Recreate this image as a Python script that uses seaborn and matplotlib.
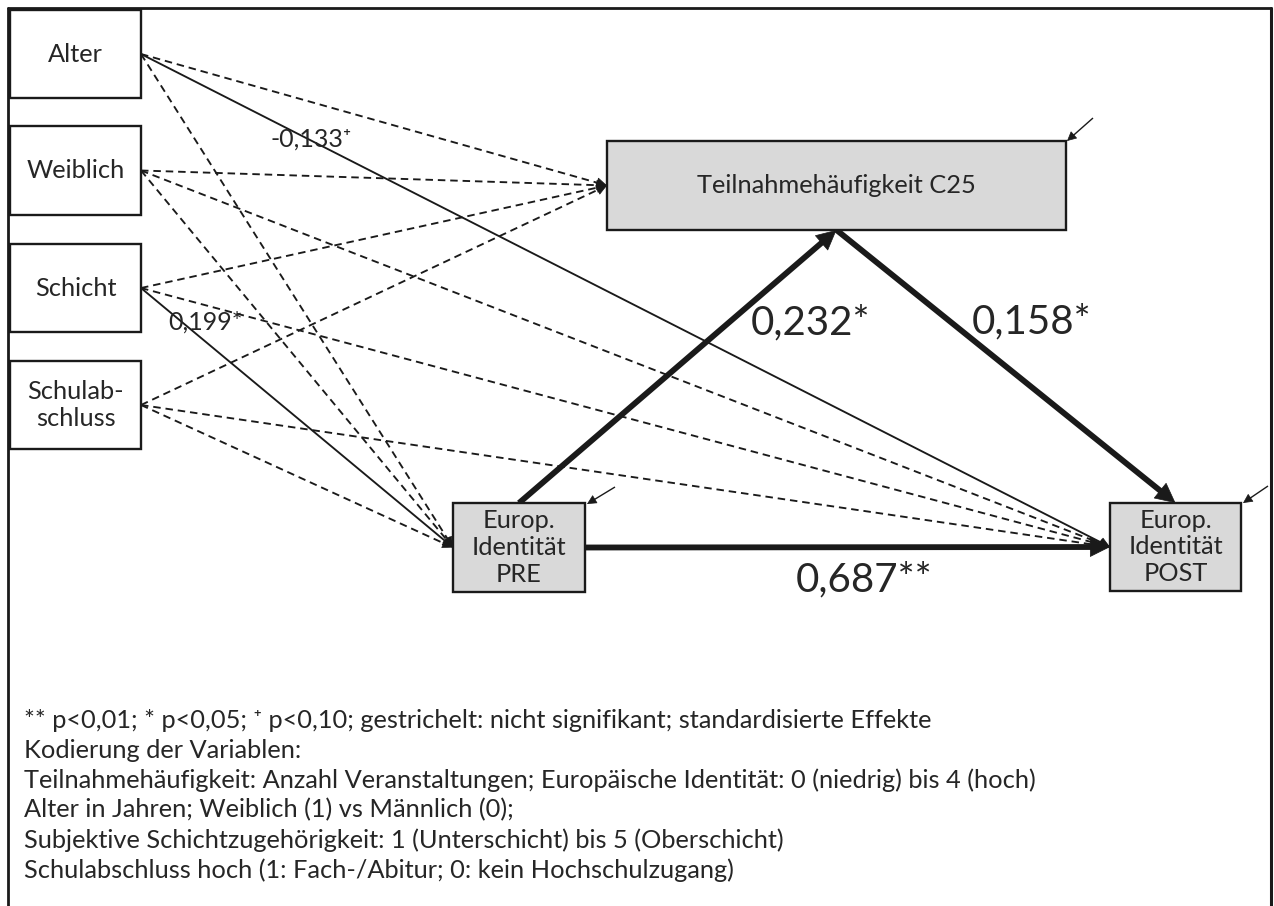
import numpy as np
import seaborn as sns
import matplotlib.pyplot as plt
from matplotlib.patches import Rectangle

# path model: covariates -> participation / identity PRE / identity POST
predictors = ['Alter', 'Weiblich', 'Schicht', 'Schulab-\nschluss']
outcomes = ['Teilnahmehäufigkeit C25', 'Europ.\nIdentität\nPRE', 'Europ.\nIdentität\nPOST']

# covariate paths: (source, target, coefficient or None if n.s., stars)
cov_src = ['Alter', 'Alter', 'Alter',
           'Weiblich', 'Weiblich', 'Weiblich',
           'Schicht', 'Schicht', 'Schicht',
           'Schulab-\nschluss', 'Schulab-\nschluss', 'Schulab-\nschluss']
cov_tgt = ['C25', 'PRE', 'POST'] * 4
cov_coef = [None, None, -0.133,
            None, None, None,
            None, 0.199, None,
            None, None, None]
cov_star = ['', '', '⁺', '', '', '', '', '*', '', '', '', '']

# main paths
main_src = ['PRE', 'C25', 'PRE']
main_tgt = ['C25', 'POST', 'POST']
main_coef = [0.232, 0.158, 0.687]
main_star = ['*', '*', '**']

notes = [
    '** p<0,01; * p<0,05; ⁺ p<0,10; gestrichelt: nicht signifikant; standardisierte Effekte',
    'Kodierung der Variablen:',
    'Teilnahmehäufigkeit: Anzahl Veranstaltungen; Europäische Identität: 0 (niedrig) bis 4 (hoch)',
    'Alter in Jahren; Weiblich (1) vs Männlich (0);',
    'Subjektive Schichtzugehörigkeit: 1 (Unterschicht) bis 5 (Oberschicht)',
    'Schulabschluss hoch (1: Fach-/Abitur; 0: kein Hochschulzugang)',
]

sns.set_theme(style='white')
plt.rcParams['font.family'] = ['Lato', 'DejaVu Sans']

fig = plt.figure(figsize=(12.74, 9.06), dpi=100)
ax = fig.add_axes([0, 0, 1, 1])
ax.set_xlim(0, 1274)
ax.set_ylim(906, 0)
ax.axis('off')

# layout in pixel units (x, y, w, h)
boxes = {
    'Alter': (10, 10, 131, 88),
    'Weiblich': (10, 126, 131, 89),
    'Schicht': (10, 244, 131, 88),
    'Schulab-\nschluss': (10, 361, 131, 88),
    'C25': (607, 141, 459, 89),
    'PRE': (453, 503, 132, 89),
    'POST': (1110, 503, 131, 88),
}
out_keys = ['C25', 'PRE', 'POST']

# outer frame
ax.plot([8, 1271], [8, 8], color='k', lw=2)
ax.plot([8, 8], [8, 906], color='k', lw=2)
ax.plot([1271, 1271], [8, 906], color='k', lw=2.2)


def fmt(v):
    return f'{v:.3f}'.replace('.', ',')


def right(k):
    x, y, w, h = boxes[k]
    return (x + w, y + h / 2)


def left(k):
    x, y, w, h = boxes[k]
    return (x, y + h / 2)


def top(k):
    x, y, w, h = boxes[k]
    return (x + w / 2, y)


def bottom(k):
    x, y, w, h = boxes[k]
    return (x + w / 2, y + h)


def arrow(p0, p1, lw, dashed=False, scale=14):
    p0, p1 = np.array(p0, float), np.array(p1, float)
    u = (p1 - p0) / np.hypot(*(p1 - p0))
    stop = p1 - u * scale * 0.55
    ax.plot([p0[0], stop[0]], [p0[1], stop[1]], color='k', lw=lw,
            ls='--' if dashed else '-', dashes=(4, 2.6) if dashed else (None, None),
            solid_capstyle='butt')
    ax.annotate('', xy=p1, xytext=p1 - u * 2,
                arrowprops=dict(arrowstyle='-|>', color='k', lw=0.5,
                                mutation_scale=scale, shrinkA=0, shrinkB=0))


# boxes and labels
for name in predictors:
    x, y, w, h = boxes[name]
    ax.add_patch(Rectangle((x, y), w, h, fc='white', ec='k', lw=1.7, zorder=3))
    ax.text(x + w / 2, y + h / 2, name, ha='center', va='center',
            fontsize=18.3, linespacing=1.2, zorder=4)
for key, name in zip(out_keys, outcomes):
    x, y, w, h = boxes[key]
    ax.add_patch(Rectangle((x, y), w, h, fc='#d9d9d9', ec='k', lw=1.7, zorder=3))
    ax.text(x + w / 2, y + h / 2, name, ha='center', va='center',
            fontsize=18.3, linespacing=1.2, zorder=4)

# covariate paths
for s, t, c, st in zip(cov_src, cov_tgt, cov_coef, cov_star):
    arrow(right(s), left(t), lw=1.35, dashed=c is None, scale=17)

# coefficient labels for significant covariate paths
ax.text(311, 139, fmt(cov_coef[2]) + cov_star[2], ha='center', va='center', fontsize=18)
ax.text(205, 322, fmt(cov_coef[7]) + cov_star[7], ha='center', va='center', fontsize=18)

# main paths (thick)
arrow(top('PRE'), bottom('C25'), lw=4.2, scale=34)
arrow(bottom('C25'), top('POST'), lw=4.2, scale=34)
arrow(right('PRE'), left('POST'), lw=4.2, scale=34)

ax.text(811, 323, fmt(main_coef[0]) + main_star[0], ha='center', va='center', fontsize=29)
ax.text(1032, 322, fmt(main_coef[1]) + main_star[1], ha='center', va='center', fontsize=29)
ax.text(864, 580, fmt(main_coef[2]) + main_star[2], ha='center', va='center', fontsize=29)

# residual (error) arrows
arrow((1093, 118), (1067, 141), lw=1.0, scale=15)
arrow((615, 487), (587, 504), lw=1.0, scale=15)
arrow((1268, 486), (1243, 503), lw=1.0, scale=15)

# notes
for i, line in enumerate(notes):
    ax.text(24, 720 + 30 * i, line, ha='left', va='center', fontsize=18.3)

fig.savefig('out.png', dpi=100)
